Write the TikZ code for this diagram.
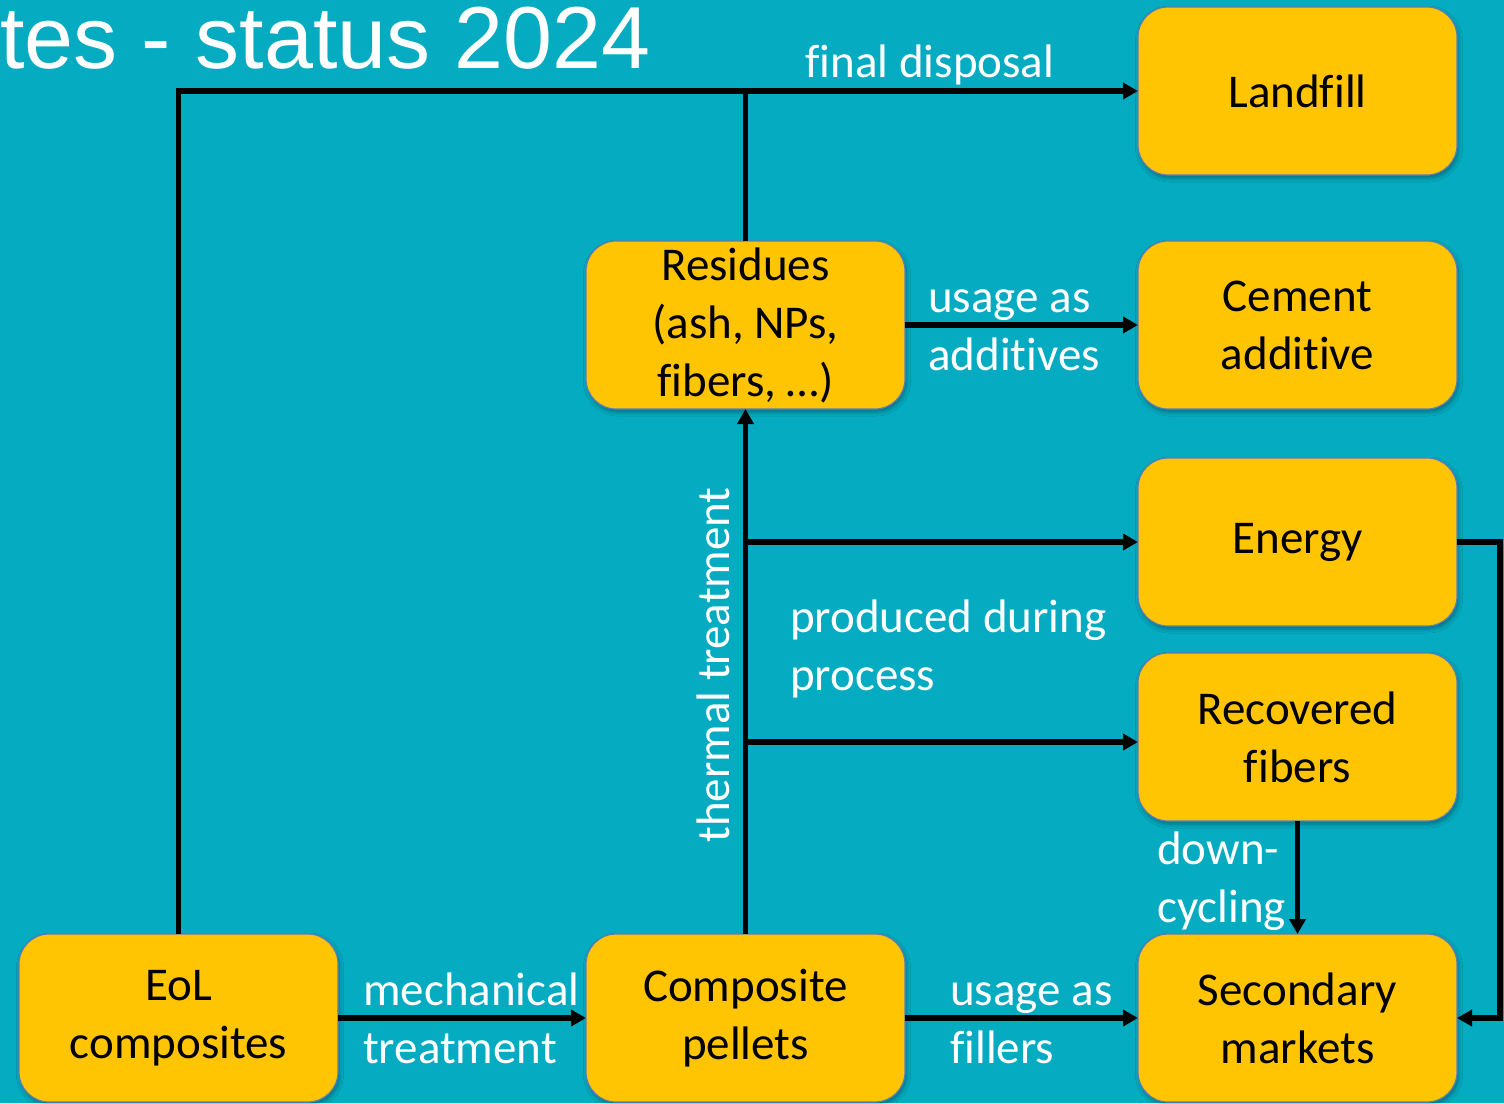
\documentclass[tikz,border=0pt]{standalone}
\usepackage{fontspec}
\setmainfont{Carlito}[Ligatures=NoCommon]
\newfontfamily\titlefont{Liberation Sans}
\usetikzlibrary{arrows.meta,shadows.blur}
\definecolor{bgteal}{HTML}{05ABC0}
\definecolor{boxgold}{HTML}{FFC502}
\definecolor{boxedge}{HTML}{5B7DB5}

\begin{document}
\begin{tikzpicture}[x=1pt,y=-1pt,
  box/.style={draw=boxedge, line width=1.2pt, fill=boxgold, rounded corners=30pt,
    minimum width=319pt, minimum height=168pt, inner sep=0pt, outer sep=0pt,
    align=center, font=\fontsize{47}{58}\selectfont,
    blur shadow={shadow xshift=1.5pt, shadow yshift=-3pt, shadow opacity=35, shadow blur radius=4pt}},
  lbl/.style={text=white, align=left, inner sep=0pt, font=\fontsize{47}{57.5}\selectfont},
  flow/.style={line width=5.5pt, -{Triangle[length=15pt,width=16pt]}},
  link/.style={line width=5.5pt}]

% canvas
\useasboundingbox (0,0) rectangle (1504,1103);
\fill[bgteal] (0,0) rectangle (1504,1103);

% title
\node[anchor=base west, inner sep=0pt, text=white, font=\titlefont\fontsize{88}{92}\selectfont]
  (title) at (0,68) {tes - status 2024};

% boxes
\node[box] (land) at (1297.5,91)     {Landfill};
\node[box] (cem)  at (1297.5,325)    {Cement\\additive};
\node[box] (en)   at (1297.5,542)    {Energy};
\node[box] (rf)   at (1297.5,737)    {Recovered\\fibers};
\node[box] (sec)  at (1297.5,1018)   {Secondary\\markets};
\node[box] (res)  at (745.5,325)     {Residues\\(ash, NPs,\\fibers, …)};
\node[box] (pel)  at (745.5,1018)    {Composite\\pellets};
\node[box] (eol)  at (178.5,1018)    {EoL\\composites};

% connectors
\draw[flow] (eol.north) -- (eol.north |- land.west) -- (land.west);
\draw[link] (res.north) -- (res.north |- land.west);
\draw[flow] (pel.north) -- (res.south);
\coordinate (tapE) at (pel.north |- en.west);
\coordinate (tapF) at ([yshift=-5pt]pel.north |- rf.west);
\draw[flow] (tapE) -- (en.west);
\draw[flow] (tapF) -- (tapF -| rf.west);
\draw[flow] (res.east) -- (cem.west);
\draw[flow] (eol.east) -- (pel.west);
\draw[flow] (pel.east) -- (sec.west);
\draw[flow] (rf.south) -- (sec.north);
\coordinate (loop) at ([xshift=43pt]en.east);
\draw[flow] (en.east) -- (loop) |- (sec.east);

% labels (base anchor sits on the last line)
\node[lbl, anchor=base] (lfd) at (930,77) {final disposal};
\node[lbl, anchor=base west] (ladd) at (928,370) {usage as\\additives};
\node[lbl, anchor=base west] (lprod) at (790,690) {produced during\\process};
\node[lbl, anchor=base west] (ldown) at (1157,922) {down-\\cycling};
\node[lbl, anchor=base west] (lmech) at (363,1063) {mechanical\\treatment};
\node[lbl, anchor=base west] (lfill) at (950,1063) {usage as\\fillers};
\node[lbl, rotate=90] (ltherm) at (713,665) {thermal treatment};

\end{tikzpicture}
\end{document}
